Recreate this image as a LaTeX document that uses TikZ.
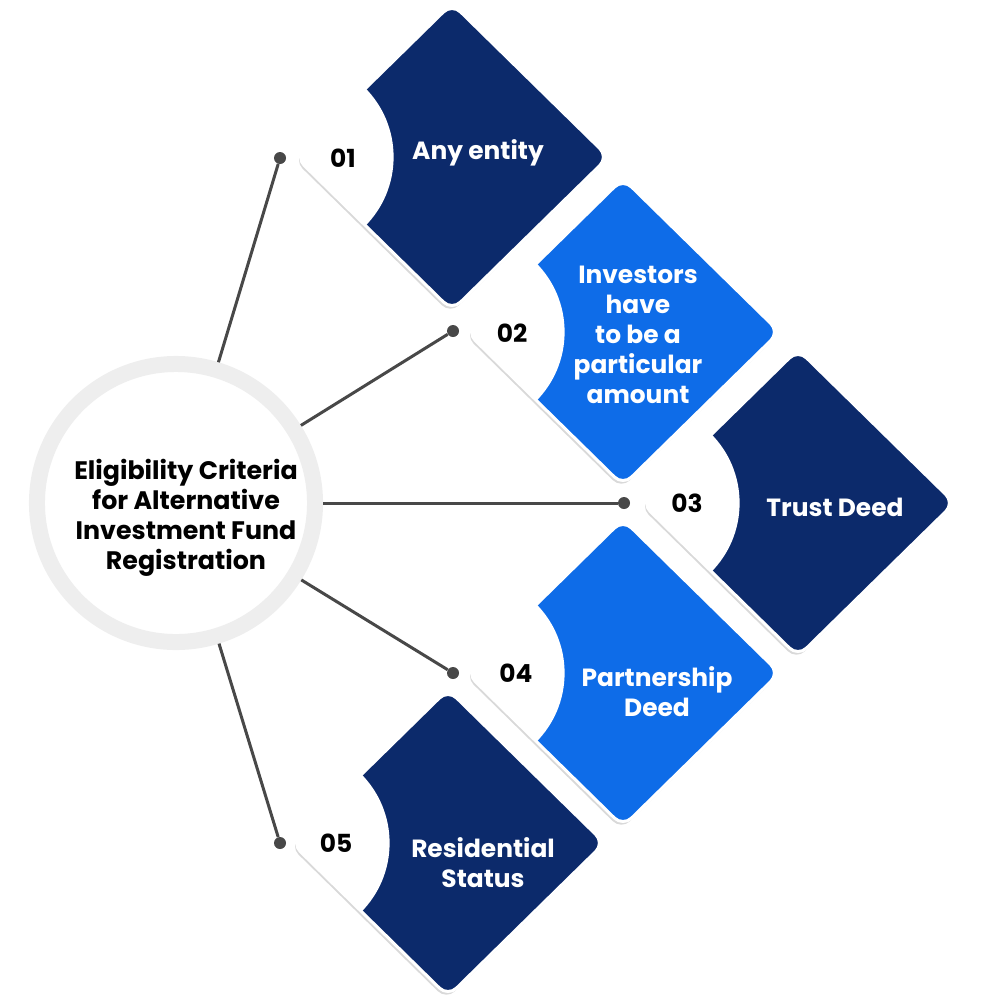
\documentclass[tikz,border=0pt]{standalone}
\usepackage{fontspec}
\setmainfont{Poppins}
\usetikzlibrary{shapes.geometric, shadows, positioning, calc}
\definecolor{navy}{RGB}{12,42,107}
\definecolor{brightblue}{RGB}{14,108,232}
\definecolor{ringgray}{RGB}{238,238,238}
\definecolor{linegray}{RGB}{72,72,72}

\tikzset{
  card/.style={diamond, draw=white, line width=0.075cm,
    minimum width=7.85cm, minimum height=7.7cm, rounded corners=0.3cm,
    drop shadow={shadow xshift=-0.04cm, shadow yshift=-0.08cm, opacity=0.3},
    path picture={\fill[white] (path picture bounding box.west) circle (2.45cm);}},
  cardtext/.style={text=white, align=center,
    font=\bfseries\fontsize{17.7}{21.3}\selectfont},
  numtext/.style={text=black, font=\bfseries\fontsize{17.7}{20}\selectfont},
  hub/.style={circle, draw=ringgray, line width=0.4cm, fill=white,
    minimum size=6.95cm},
  dot/.style={circle, fill=linegray, inner sep=0pt, minimum size=0.3cm},
  link/.style={draw=linegray, line width=0.075cm}
}

\begin{document}
\begin{tikzpicture}[x=0.025cm, y=-0.025cm]
  \useasboundingbox (0,0) rectangle (1000,1000);

  % centre
  \node[hub] (hub) at (176,503) {};
  \node[text=black, align=center, font=\bfseries\fontsize{18}{21.3}\selectfont]
    (title) at (186,518) {Eligibility Criteria\\for Alternative\\Investment Fund\\Registration};

  % cards
  \node[card, fill=navy] (c1) at (452,157) {};
  \node[card, fill=brightblue] (c2) at (623,332) {};
  \node[card, fill=navy] (c3) at (798,503) {};
  \node[card, fill=brightblue] (c4) at (623,673) {};
  \node[card, fill=navy] (c5) at (448,843) {};

  \node[numtext] (n1) at (343,158) {01};
  \node[numtext] (n2) at (512,333) {02};
  \node[numtext] (n3) at (687,503) {03};
  \node[numtext] (n4) at (516,673) {04};
  \node[numtext] (n5) at (336,843) {05};

  \node[cardtext] (t1) at (478,153) {Any entity};
  \node[cardtext] (t2) at (638,335) {Investors\\have\\to be a\\particular\\amount};
  \node[cardtext] (t3) at (835,507) {Trust Deed};
  \node[cardtext] (t4) at (657,692) {Partnership\\Deed};
  \node[cardtext] (t5) at (483,863) {Residential\\Status};

  % connectors
  \node[dot] (p1) at (280,158) {};
  \node[dot] (p2) at (453,331) {};
  \node[dot] (p3) at (624,503) {};
  \node[dot] (p4) at (453,673) {};
  \node[dot] (p5) at (280,843) {};
  \draw[link] (hub) -- (p1);
  \draw[link] (hub) -- (p2);
  \draw[link] (hub) -- (p3);
  \draw[link] (hub) -- (p4);
  \draw[link] (hub) -- (p5);
\end{tikzpicture}
\end{document}
